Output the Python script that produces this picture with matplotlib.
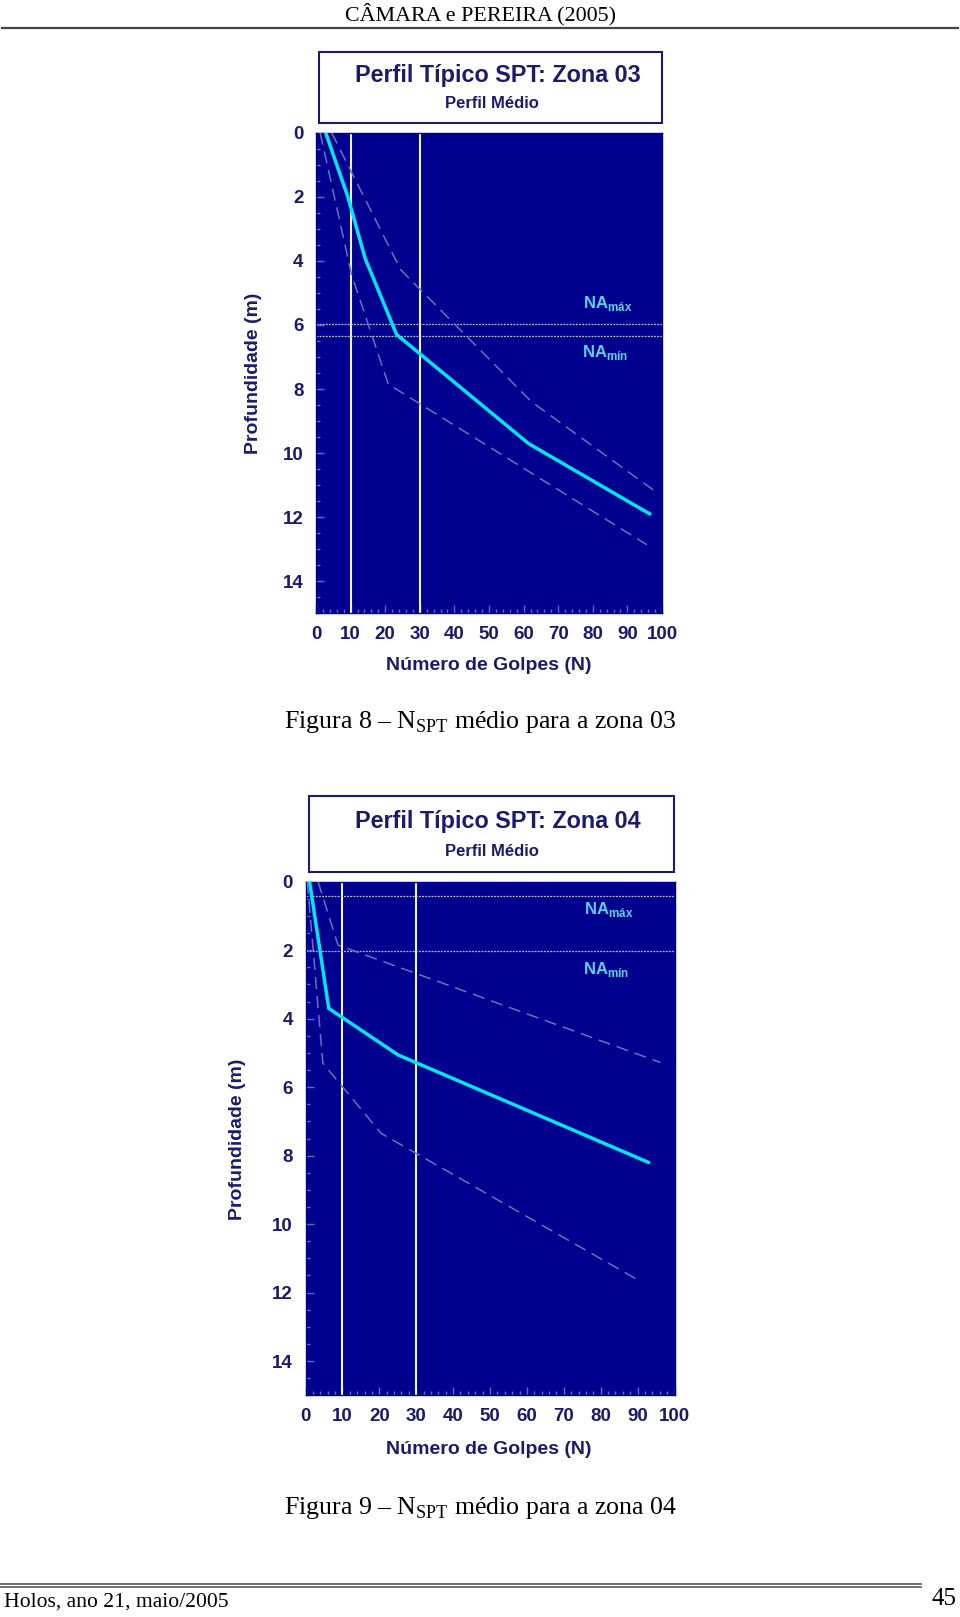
import matplotlib
matplotlib.use("Agg")
import matplotlib.pyplot as plt
from matplotlib.patches import Rectangle
from matplotlib.lines import Line2D
from matplotlib.ticker import MultipleLocator

# ---------------- data ----------------
x_ticks = [0, 10, 20, 30, 40, 50, 60, 70, 80, 90, 100]
y_ticks = [0, 2, 4, 6, 8, 10, 12, 14]
ref_lines_N = [10, 30]

# Zona 03
z3_mean_N = [2.8, 9.2, 14.2, 23.3, 61.4, 96.5]
z3_mean_d = [0.0, 2.0, 3.92, 6.3, 9.7, 11.9]
z3_max_N = [4.5, 24.5, 62.3, 97.5]
z3_max_d = [0.0, 4.28, 8.4, 11.15]
z3_min_N = [1.2, 10.3, 20.9, 95.6]
z3_min_d = [0.0, 4.44, 7.85, 12.86]
z3_na = [5.97, 6.35]

# Zona 04
z4_mean_N = [1.1, 6.3, 25.1, 93.0]
z4_mean_d = [0.0, 3.7, 5.06, 8.2]
z4_max_N = [3.4, 8.8, 96.2]
z4_max_d = [0.0, 1.85, 5.28]
z4_min_N = [0.5, 4.7, 20.5, 90.4]
z4_min_d = [0.0, 5.3, 7.35, 11.65]
z4_na = [0.41, 2.02]

titles = ["Perfil Típico SPT: Zona 03", "Perfil Típico SPT: Zona 04"]
subtitle = "Perfil Médio"
captions = ["Figura 8 – N$_\\mathregular{SPT}$ médio para a zona 03",
            "Figura 9 – N$_\\mathregular{SPT}$ médio para a zona 04"]

# ---------------- style ----------------
W, H = 960, 1617
NAVY_BG = "#00008e"
TXT = "#1b1b6e"
CYAN = "#00e6ff"
DASH = "#6374bd"
TICK = "#5a6cc0"
NA_COL = "#5cd0f2"
SANS = ["Liberation Sans", "DejaVu Sans"]
SERIF = ["Liberation Serif", "DejaVu Serif"]

plt.rcParams["mathtext.fontset"] = "custom"
plt.rcParams["mathtext.rm"] = "Liberation Serif"

fig = plt.figure(figsize=(W / 100, H / 100), dpi=100)
fig.patch.set_facecolor("white")


def fx(x):
    return x / W


def fy(y):
    return 1 - y / H


def add_rect_axes(l, t, r, b):
    return fig.add_axes([fx(l), fy(b), fx(r) - fx(l), fy(t) - fy(b)])


def text_px(x, y, s, **kw):
    fig.text(fx(x), fy(y), s, **kw)


# header / footer
text_px(480.5, 14, "CÂMARA e PEREIRA (2005)", ha="center", va="center",
        family=SERIF, fontsize=15.8, color="black")
fig.add_artist(Line2D([fx(2), fx(958)], [fy(27.7), fy(27.7)], color="#444444", lw=1.6))
fig.add_artist(Line2D([fx(0), fx(921)], [fy(1584), fy(1584)], color="#555555", lw=1.2))
fig.add_artist(Line2D([fx(0), fx(921)], [fy(1587), fy(1587)], color="#555555", lw=1.2))
text_px(4, 1602, "Holos, ano 21, maio/2005", ha="left", va="center",
        family=SERIF, fontsize=15.6, color="black")
text_px(957, 1599, "45", ha="right", va="center",
        family=SERIF, fontsize=18, color="black")

charts = [
    dict(box=(319.3, 51.7, 662, 122.7), ax=(316, 132.7, 662, 613.3),
         title_xy=(497.5, 75.5), sub_xy=(491.7, 103.3),
         ylab_xy=(254, 373), xlab_xy=(488.3, 665), cap_xy=(480.5, 721.5),
         mean=(z3_mean_N, z3_mean_d), mx=(z3_max_N, z3_max_d), mn=(z3_min_N, z3_min_d),
         na=z3_na, na_lab=[(583, 303), (582, 353)]),
    dict(box=(309, 796, 674, 872.3), ax=(305.5, 881.7, 674.5, 1395.3),
         title_xy=(498.3, 821.2), sub_xy=(491.7, 851),
         ylab_xy=(238, 1139), xlab_xy=(488.3, 1449.5), cap_xy=(480.5, 1508),
         mean=(z4_mean_N, z4_mean_d), mx=(z4_max_N, z4_max_d), mn=(z4_min_N, z4_min_d),
         na=z4_na, na_lab=[(584, 909), (583, 969)]),
]

for i, c in enumerate(charts):
    # title box
    bl, bt, br, bb = c["box"]
    fig.add_artist(Rectangle((fx(bl), fy(bb)), fx(br) - fx(bl), fy(bt) - fy(bb),
                             transform=fig.transFigure, facecolor="white",
                             edgecolor=TXT, lw=1.5))
    text_px(*c["title_xy"], titles[i], ha="center", va="center", family=SANS,
            weight="bold", fontsize=16.8, color=TXT)
    text_px(*c["sub_xy"], subtitle, ha="center", va="center", family=SANS,
            weight="bold", fontsize=12, color=TXT)

    ax = add_rect_axes(*c["ax"])
    ax.set_facecolor(NAVY_BG)
    for sp in ax.spines.values():
        sp.set_color(NAVY_BG)
        sp.set_linewidth(1)
    ax.set_xlim(0, 100)
    ax.set_ylim(15, 0)

    ax.set_xticks(x_ticks)
    ax.set_yticks(y_ticks)
    ax.xaxis.set_minor_locator(MultipleLocator(2))
    ax.yaxis.set_minor_locator(MultipleLocator(0.5))
    ax.tick_params(which="major", direction="in", length=6, width=1, color=TICK,
                   labelsize=13.5, labelcolor=TXT, pad=9)
    ax.tick_params(which="minor", direction="in", length=3, width=1, color=TICK)
    ax.tick_params(axis="x", which="major", pad=9.5)
    for lab in ax.get_xticklabels() + ax.get_yticklabels():
        lab.set_fontfamily(SANS)
        lab.set_fontweight("bold")

    # reference verticals
    for n in ref_lines_N:
        ax.axvline(n, color="#f2f2f2", lw=1.5, zorder=2)
    # water level lines
    for d in c["na"]:
        ax.axhline(d, color="#b8bfe6", lw=0.9, ls=(0, (1.5, 1)), zorder=2)

    ax.plot(*c["mx"], color=DASH, lw=1.1, dashes=(8, 4.5), zorder=3)
    ax.plot(*c["mn"], color=DASH, lw=1.1, dashes=(8, 4.5), zorder=3)
    ax.plot(*c["mean"], color=CYAN, lw=2.5, zorder=4, solid_capstyle="round")

    # NA labels
    (x1, y1), (x2, y2) = c["na_lab"]
    text_px(x1, y1, "NA$_\\mathregular{máx}$", ha="left", va="center", family=SANS,
            weight="bold", fontsize=12, color=NA_COL)
    text_px(x2, y2, "NA$_\\mathregular{mín}$", ha="left", va="center", family=SANS,
            weight="bold", fontsize=12, color=NA_COL)

    # axis labels
    text_px(*c["ylab_xy"], "Profundidade (m)", rotation=90, ha="center", va="center",
            family=SANS, weight="bold", fontsize=14, color=TXT)
    text_px(*c["xlab_xy"], "Número de Golpes (N)", ha="center", va="center",
            family=SANS, weight="bold", fontsize=14, color=TXT)

    # caption
    text_px(*c["cap_xy"], captions[i], ha="center", va="center",
            family=SERIF, fontsize=18.6, color="black")

fig.savefig("out.png", dpi=100)
